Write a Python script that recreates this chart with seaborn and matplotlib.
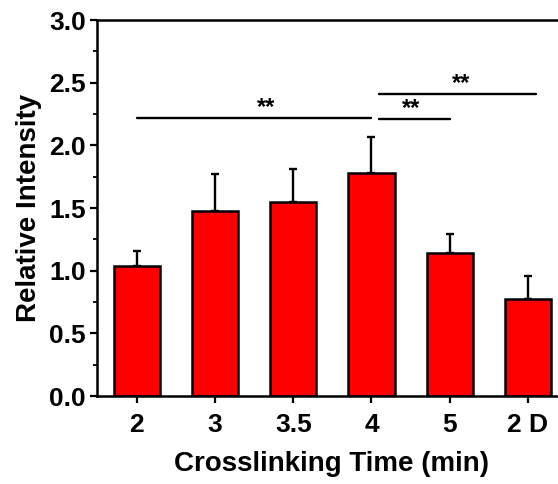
import numpy as np
import pandas as pd
import matplotlib
matplotlib.use("Agg")
import matplotlib.pyplot as plt
from matplotlib.ticker import MultipleLocator
import seaborn as sns

# data
times = ["2", "3", "3.5", "4", "5", "2 D"]
intensity = [1.04, 1.48, 1.55, 1.78, 1.14, 0.77]
intensity_err = [0.12, 0.29, 0.26, 0.29, 0.15, 0.19]

# significance brackets: (start, end, height) in category units
sig_start = [0.0, 3.09, 3.09]
sig_end = [2.99, 4.0, 5.10]
sig_height = [2.22, 2.21, 2.41]
sig_label = ["**", "**", "**"]
sig_label_x = [1.65, 3.5, 4.14]

sns.set_style("ticks")
plt.rcParams['font.family'] = ['Liberation Sans', 'DejaVu Sans']
plt.rcParams['font.weight'] = 'bold'
plt.rcParams['text.color'] = 'black'
plt.rcParams['axes.labelcolor'] = 'black'
plt.rcParams['xtick.color'] = 'black'
plt.rcParams['ytick.color'] = 'black'

df = pd.DataFrame({"time": times, "value": intensity})

fig = plt.figure(figsize=(5.58, 4.84), dpi=100)
ax = fig.add_axes([97 / 558, 1 - 396 / 484, 470 / 558, 376 / 484])

sns.barplot(data=df, x="time", y="value", color="#ff0000", saturation=1,
            edgecolor="black", linewidth=1.8, width=0.59, ax=ax, errorbar=None)

xs = np.arange(len(times))
ax.errorbar(xs, intensity, yerr=[np.zeros(len(times)), intensity_err],
            fmt="none", ecolor="black", elinewidth=1.7, capsize=3, capthick=1.7, zorder=1)

for x0, x1, h, lab, lx in zip(sig_start, sig_end, sig_height, sig_label, sig_label_x):
    ax.plot([x0, x1], [h, h], color="black", lw=1.7)
    ax.text(lx, h - 0.01, lab, ha="center", va="bottom",
            fontsize=17, fontweight="bold")

ax.set_xlim(-0.51, 5.5)
ax.set_ylim(0, 3.0)
ax.yaxis.set_major_locator(MultipleLocator(0.5))
ax.yaxis.set_minor_locator(MultipleLocator(0.25))
ax.yaxis.set_major_formatter(matplotlib.ticker.FormatStrFormatter("%.1f"))

for s in ["left", "bottom", "top"]:
    ax.spines[s].set_linewidth(1.8)
    ax.spines[s].set_color("black")
ax.spines["right"].set_visible(False)

ax.tick_params(axis="both", which="major", direction="out", length=5, width=1.6,
               labelsize=19, color="black", pad=3)
ax.tick_params(axis="x", which="major", pad=7)
ax.tick_params(axis="y", which="minor", direction="out", length=3, width=1.3)
for lab in ax.get_xticklabels() + ax.get_yticklabels():
    lab.set_fontweight("bold")

ax.set_xlabel("Crosslinking Time (min)", fontsize=20, fontweight="bold", labelpad=10)
ax.set_ylabel("Relative Intensity", fontsize=20, fontweight="bold", labelpad=5)

fig.savefig("out.png", dpi=100)
